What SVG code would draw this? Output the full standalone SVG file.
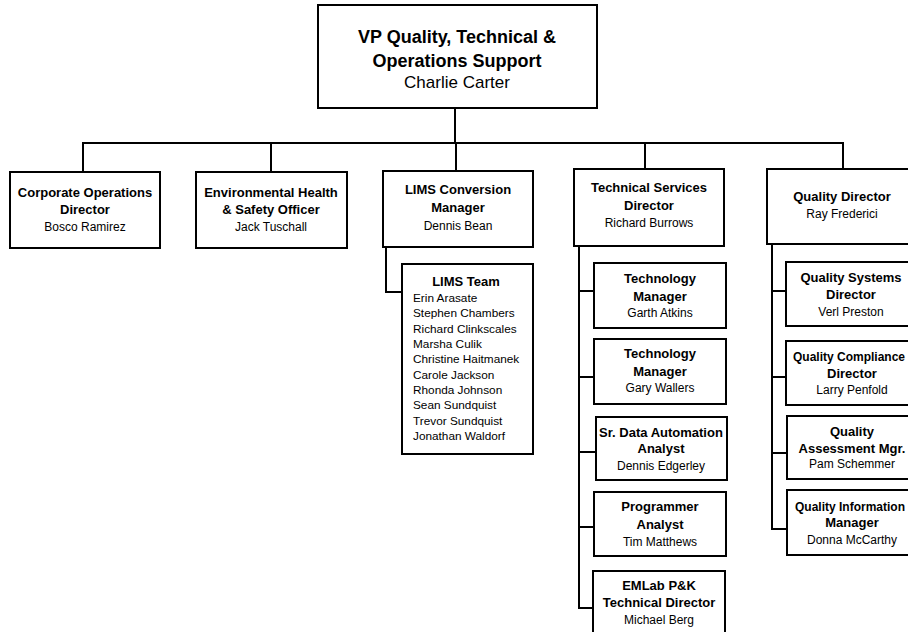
<svg xmlns="http://www.w3.org/2000/svg" width="908" height="632" viewBox="0 0 908 632">
  <style>
    .box { fill: #ffffff; stroke: #000000; stroke-width: 2; }
    .wire { fill: none; stroke: #000000; stroke-width: 2; }
    text { font-family: "Liberation Sans", Arial, sans-serif; fill: #000000; }
    .t { font-size: 13px; font-weight: bold; text-anchor: middle; }
    .tw { font-size: 12px; }
    .n { font-size: 12px; text-anchor: middle; }
    .top { font-size: 18px; font-weight: bold; text-anchor: middle; }
    .topn { font-size: 17px; text-anchor: middle; }
    .list { font-size: 11.8px; }
  </style>
  <rect width="908" height="632" fill="#ffffff"/>

  <!-- reporting lines -->
  <g id="connectors">
    <path class="wire" d="M455,108 V143"/>
    <path class="wire" d="M83,172 V143 H843 V169"/>
    <path class="wire" d="M271,143 V172"/>
    <path class="wire" d="M456,143 V171"/>
    <path class="wire" d="M645,143 V169"/>
    <path class="wire" d="M386,247 V292 H402"/>
    <path class="wire" d="M579,246 V608 H593"/>
    <path class="wire" d="M579,291 H594 M579,377 H594 M579,452 H596 M579,527 H594"/>
    <path class="wire" d="M772,244 V529 H787"/>
    <path class="wire" d="M772,291 H786 M772,377 H786 M772,453 H787"/>
  </g>

  <g id="vp">
    <rect class="box" x="318" y="5" width="279" height="103"/>
    <text class="top" x="457" y="43">VP Quality, Technical &amp;</text>
    <text class="top" x="457" y="67">Operations Support</text>
    <text class="topn" x="457" y="88">Charlie Carter</text>
  </g>

  <g id="corporate-ops">
    <rect class="box" x="10" y="172" width="150" height="76"/>
    <text class="t" x="85" y="197">Corporate Operations</text>
    <text class="t" x="85" y="214">Director</text>
    <text class="n" x="85" y="231">Bosco Ramirez</text>
  </g>

  <g id="ehs">
    <rect class="box" x="196" y="172" width="151" height="76"/>
    <text class="t" x="271" y="197">Environmental Health</text>
    <text class="t" x="271" y="214">&amp; Safety Officer</text>
    <text class="n" x="271" y="231">Jack Tuschall</text>
  </g>

  <g id="lims-manager">
    <rect class="box" x="383" y="171" width="150" height="76"/>
    <text class="t" x="458" y="194">LIMS Conversion</text>
    <text class="t" x="458" y="212">Manager</text>
    <text class="n" x="458" y="230">Dennis Bean</text>
  </g>

  <g id="lims-team">
    <rect class="box" x="402" y="264" width="131" height="190"/>
    <text class="t" x="466" y="286">LIMS Team</text>
    <text class="list" x="413" y="302">Erin Arasate</text>
    <text class="list" x="413" y="317">Stephen Chambers</text>
    <text class="list" x="413" y="333">Richard Clinkscales</text>
    <text class="list" x="413" y="348">Marsha Culik</text>
    <text class="list" x="413" y="363">Christine Haitmanek</text>
    <text class="list" x="413" y="379">Carole Jackson</text>
    <text class="list" x="413" y="394">Rhonda Johnson</text>
    <text class="list" x="413" y="409">Sean Sundquist</text>
    <text class="list" x="413" y="425">Trevor Sundquist</text>
    <text class="list" x="413" y="440">Jonathan Waldorf</text>
  </g>

  <g id="tech-services">
    <rect class="box" x="574" y="169" width="150" height="77"/>
    <text class="t" x="649" y="192">Technical Services</text>
    <text class="t" x="649" y="210">Director</text>
    <text class="n" x="649" y="227">Richard Burrows</text>
  </g>

  <g id="tech-mgr-atkins">
    <rect class="box" x="594" y="263" width="132" height="65"/>
    <text class="t" x="660" y="283">Technology</text>
    <text class="t" x="660" y="301">Manager</text>
    <text class="n" x="660" y="317">Garth Atkins</text>
  </g>

  <g id="tech-mgr-wallers">
    <rect class="box" x="594" y="339" width="132" height="65"/>
    <text class="t" x="660" y="358">Technology</text>
    <text class="t" x="660" y="376">Manager</text>
    <text class="n" x="660" y="392">Gary Wallers</text>
  </g>

  <g id="data-automation">
    <rect class="box" x="596" y="417" width="131" height="63"/>
    <text class="t" x="661" y="437">Sr. Data Automation</text>
    <text class="t" x="661" y="453">Analyst</text>
    <text class="n" x="661" y="470">Dennis Edgerley</text>
  </g>

  <g id="programmer">
    <rect class="box" x="594" y="492" width="132" height="64"/>
    <text class="t" x="660" y="511">Programmer</text>
    <text class="t" x="660" y="529">Analyst</text>
    <text class="n" x="660" y="546">Tim Matthews</text>
  </g>

  <g id="emlab">
    <rect class="box" x="593" y="571" width="132" height="70"/>
    <text class="t" x="659" y="590">EMLab P&amp;K</text>
    <text class="t" x="659" y="607">Technical Director</text>
    <text class="n" x="659" y="624">Michael Berg</text>
  </g>

  <g id="quality-director">
    <rect class="box" x="767" y="169" width="152" height="75"/>
    <text class="t" x="842" y="201">Quality Director</text>
    <text class="n" x="842" y="218">Ray Frederici</text>
  </g>

  <g id="quality-systems">
    <rect class="box" x="786" y="262" width="130" height="64"/>
    <text class="t" x="851" y="282">Quality Systems</text>
    <text class="t" x="851" y="299">Director</text>
    <text class="n" x="851" y="316">Verl Preston</text>
  </g>

  <g id="quality-compliance">
    <rect class="box" x="786" y="341" width="130" height="64"/>
    <text class="t tw" x="849" y="361">Quality Compliance</text>
    <text class="t" x="852" y="378">Director</text>
    <text class="n" x="852" y="394">Larry Penfold</text>
  </g>

  <g id="quality-assessment">
    <rect class="box" x="787" y="416" width="130" height="63"/>
    <text class="t" x="852" y="436">Quality</text>
    <text class="t" x="852" y="453">Assessment Mgr.</text>
    <text class="n" x="852" y="468">Pam Schemmer</text>
  </g>

  <g id="quality-information">
    <rect class="box" x="787" y="490" width="130" height="65"/>
    <text class="t tw" x="850" y="511">Quality Information</text>
    <text class="t" x="852" y="527">Manager</text>
    <text class="n" x="852" y="544">Donna McCarthy</text>
  </g>
</svg>
